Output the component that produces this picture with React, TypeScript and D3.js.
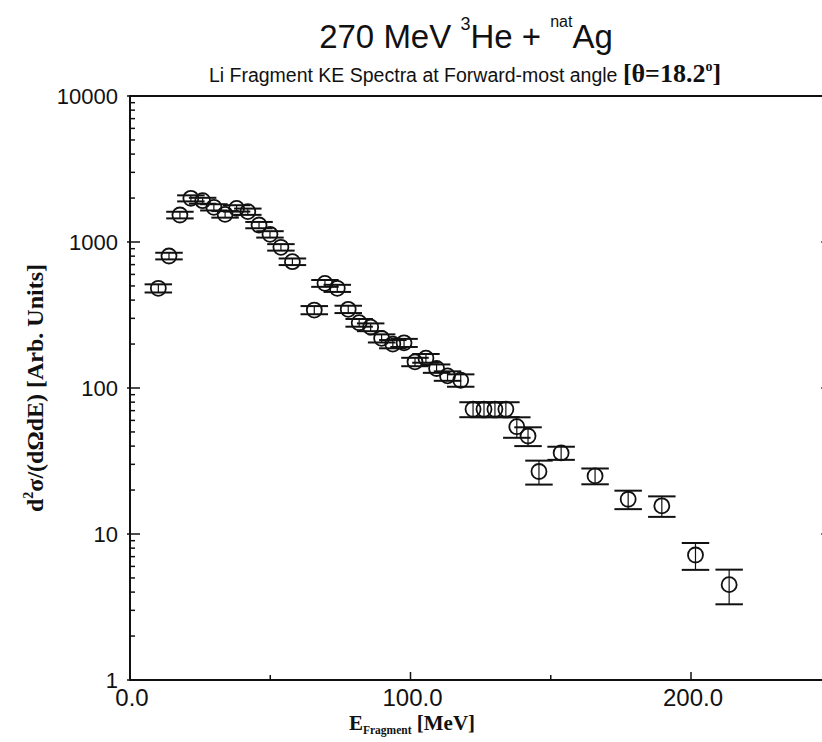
import React from "react";
import * as d3 from "d3";

const energies = [10.1, 13.9, 17.8, 21.7, 25.9, 29.9, 33.9, 38.0, 42.0, 46.0, 49.9, 53.8, 57.9, 65.7, 69.5, 73.9, 77.8, 81.7, 85.8, 89.7, 93.7, 97.7, 101.6, 105.5, 109.3, 113.2, 117.9, 122.3, 126.2, 130.1, 134.0, 137.9, 141.9, 145.8, 153.7, 165.8, 177.6, 189.6, 201.6, 213.6];
const values = [482, 802, 1531, 1992, 1918, 1729, 1548, 1701, 1614, 1307, 1129, 920, 733, 342, 521, 482, 346, 280, 261, 219, 200, 204, 151, 160, 136, 121, 113, 71.5, 71.5, 71.5, 71.5, 54.3, 46.9, 26.8, 35.9, 25.0, 17.3, 15.6, 7.18, 4.5];
const errors = [31, 42, 80, 95, 90, 85, 80, 85, 80, 65, 57, 47, 38, 22, 28, 27, 20, 17, 16, 14, 13, 13, 10, 11, 9, 9, 11, 8.4, 8.4, 8.4, 8.4, 8.7, 6.9, 5.0, 3.7, 3.1, 2.5, 2.5, 1.5, 1.2];
const binHalfWidth = 4.9; // MeV
const xTickLabels = [0, 100, 200];
const xMinorTicks = [50, 150];
const yTickLabels = [1, 10, 100, 1000, 10000];

const W = 822;
const H = 742;
const left = 130;
const top = 96;
const bottom = 680;

export default function App() {
  const x = d3.scaleLinear().domain([0, 250]).range([left, left + 250 * 2.805]);
  const y = d3.scaleLog().domain([1, 10000]).range([bottom, top]);
  const right = x(250);

  const minorY: number[] = [];
  for (let k = 0; k < 4; k++) {
    for (let m = 2; m <= 9; m++) minorY.push(m * Math.pow(10, k));
  }

  const sans = "'Liberation Sans', Arial, Helvetica, sans-serif";
  const serif = "'Liberation Serif', 'Times New Roman', serif";

  return (
    <div style={{ position: "fixed", left: 0, top: 0 }}>
      <svg width={W} height={H} style={{ display: "block", background: "#fff" }}>
        <rect x={0} y={0} width={W} height={H} fill="#fff" />
        {/* title */}
        <text x={466} y={48} textAnchor="middle" fontFamily={sans} fontSize={33} fill="#111">
          270 MeV <tspan dy={-18} fontSize={18}>3</tspan>
          <tspan dy={18}>He + </tspan>
          <tspan dy={-21} fontSize={16}>nat</tspan>
          <tspan dy={21}>Ag</tspan>
        </text>
        <text x={465} y={82} textAnchor="middle" fontFamily={sans} fontSize={19.5} fill="#111">
          Li Fragment KE Spectra at Forward-most angle <tspan fontFamily={serif} fontWeight="bold" fontSize={26}>[θ=18.2</tspan>
          <tspan fontFamily={serif} fontWeight="bold" fontSize={14} dy={-11}>o</tspan>
          <tspan fontFamily={serif} fontWeight="bold" fontSize={26} dy={11}>]</tspan>
        </text>

        {/* frame */}
        <g stroke="#111" strokeWidth={2} fill="none">
          <line x1={left} y1={top} x2={right} y2={top} />
          <line x1={left} y1={bottom} x2={right} y2={bottom} />
          <line x1={left} y1={top - 1} x2={left} y2={bottom + 1} />
          <line x1={right} y1={top} x2={right} y2={bottom} />
        </g>
        {/* ticks */}
        <g stroke="#111" strokeWidth={1.5}>
          {yTickLabels.map((v) => (
            <g key={"ym" + v}>
              <line x1={left - 3} x2={left + 10} y1={y(v)} y2={y(v)} />
              <line x1={right - 10} x2={right} y1={y(v)} y2={y(v)} />
            </g>
          ))}
          {minorY.map((v) => (
            <line key={"yn" + v} x1={left} x2={left + 5} y1={y(v)} y2={y(v)} />
          ))}
          {xTickLabels.map((v) => (
            <line key={"xm" + v} x1={x(v)} x2={x(v)} y1={bottom} y2={bottom - 8} />
          ))}
          {xMinorTicks.map((v) => (
            <line key={"xn" + v} x1={x(v)} x2={x(v)} y1={bottom} y2={bottom - 5} />
          ))}
        </g>
        {/* tick labels */}
        <g fontFamily={sans} fill="#111">
          {yTickLabels.map((v) => (
            <text key={"yl" + v} x={118} y={y(v) + 8} textAnchor="end" fontSize={22}>
              {String(v)}
            </text>
          ))}
          {xTickLabels.map((v) => (
            <text key={"xl" + v} x={x(v) + 2} y={706} textAnchor="middle" fontSize={24}>
              {v.toFixed(1)}
            </text>
          ))}
        </g>
        {/* axis titles */}
        <text transform="translate(43,388) rotate(-90)" textAnchor="middle" fontFamily={serif} fontWeight="bold" fontSize={24} fill="#111">
          d<tspan fontSize={14} dy={-10}>2</tspan>
          <tspan dy={10}>σ/(dΩdE) [Arb. Units]</tspan>
        </text>
        <text x={412} y={730} textAnchor="middle" fontFamily={serif} fontWeight="bold" fontSize={21} fill="#111">
          E<tspan fontSize={11.5} dy={4}>Fragment</tspan>
          <tspan dy={-4}> [MeV]</tspan>
        </text>

        {/* data */}
        <g stroke="#111" fill="none">
          {energies.map((e, i) => {
            const cx = x(e);
            const cy = y(values[i]);
            const yt = y(values[i] + errors[i]);
            const yb = y(values[i] - errors[i]);
            const xl = x(e - binHalfWidth);
            const xr = x(e + binHalfWidth);
            return (
              <g key={"p" + i}>
                <line x1={cx} x2={cx} y1={yt} y2={yb} strokeWidth={1.2} />
                <line x1={xl} x2={xr} y1={yt} y2={yt} strokeWidth={2} />
                <line x1={xl} x2={xr} y1={yb} y2={yb} strokeWidth={2} />
                <circle cx={cx} cy={cy} r={7.5} strokeWidth={1.8} />
              </g>
            );
          })}
        </g>
      </svg>
    </div>
  );
}
